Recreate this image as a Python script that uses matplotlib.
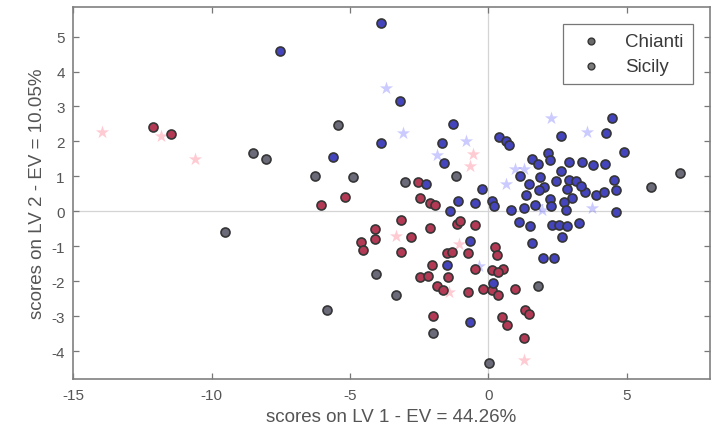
import matplotlib
matplotlib.use("Agg")
import matplotlib.pyplot as plt

plt.rcParams['font.family'] = ['Liberation Sans', 'DejaVu Sans']
plt.rcParams['axes.unicode_minus'] = False

# Calibration scores, LV1 / LV2
chianti_x = [-7.54, -3.89, -5.60, -3.20, -3.89, -1.29, -1.66, -1.59, -2.26, -1.09,
             -1.39, -0.48, 0.12, 0.22, -0.22, 0.40, 0.65, 0.75, 2.61, 4.45,
             4.25, 4.90, 4.53, 4.60, 4.60, 4.20, 3.78, 3.38, 2.93, 2.15,
             2.22, 1.58, 1.78, 2.63, 2.90, 3.17, 1.86, 1.45, 1.36, 2.00,
             2.43, 3.50, 3.90, 4.17, 3.02, 2.75, 2.23, 1.69, 1.30, 0.80,
             2.25, 2.80, 1.10, 2.31, 2.55, 2.85, 3.27, 1.52, 2.66, 1.57,
             1.99, 2.36, -0.66, -0.66, 0.18, -1.51, 2.85, 3.33, 1.82, 1.16]
chianti_y = [4.58, 5.38, 1.56, 3.17, 1.95, 2.50, 1.95, 1.39, 0.77, 0.29,
             0.02, 0.24, 0.29, 0.16, 0.63, 2.14, 2.00, 1.89, 2.16, 2.68,
             2.24, 1.69, 0.89, 0.60, -0.03, 1.35, 1.33, 1.42, 1.42, 1.66,
             1.47, 1.49, 1.36, 1.16, 0.89, 0.87, 0.99, 0.77, 0.46, 0.70,
             0.87, 0.56, 0.46, 0.55, 0.38, 0.28, 0.34, 0.19, 0.10, 0.03,
             0.14, 0.05, -0.29, -0.40, -0.38, -0.41, -0.33, -0.43, -0.72, -0.91,
             -1.34, -1.34, -0.86, -3.17, -2.06, -1.54, 0.63, 0.72, 0.60, 1.01]

sicily_x = [-12.13, -11.46, -6.03, -5.18, -2.56, -2.47, -2.11, -1.93, -4.08, -4.08,
            -4.59, -4.53, -3.16, -3.14, -2.78, -2.11, -1.15, -1.02, -0.48, -1.51,
            -1.33, -0.72, 0.24, 0.30, -2.05, -2.47, -2.17, -1.45, -0.48, 0.12,
            0.54, 0.36, -1.87, -1.63, -0.72, -0.18, 0.12, 0.36, 0.97, -1.99,
            1.33, 1.45, 0.48, 0.67, 1.27]
sicily_y = [2.40, 2.21, 0.19, 0.41, 0.84, 0.39, 0.24, 0.19, -0.51, -0.80,
            -0.89, -1.10, -0.26, -1.15, -0.72, -0.48, -0.35, -0.28, -0.38, -1.20,
            -1.15, -1.20, -1.01, -1.25, -1.54, -1.87, -1.85, -1.87, -1.66, -1.68,
            -1.66, -1.73, -2.14, -2.24, -2.31, -2.21, -2.26, -2.40, -2.21, -2.98,
            -2.83, -2.93, -3.03, -3.26, -3.62]

# Samples with intermediate class score
mixed_x = [-8.50, -8.02, -6.27, -9.50, -5.84, -5.42, 6.91, 5.86, -3.00, -1.18,
           0.04, -3.32, -4.05, -1.99, 1.81, -4.88]
mixed_y = [1.68, 1.51, 1.01, -0.60, -2.83, 2.47, 1.09, 0.69, 0.84, 1.01,
           -4.34, -2.38, -1.80, -3.49, -2.14, 0.98]

# Validation scores
val_chianti_x = [-3.70, -3.10, -0.82, -1.86, 2.26, 3.57, 1.27, 1.76, 0.97, 0.62, 3.76, -0.35, 1.95]
val_chianti_y = [3.53, 2.25, 2.02, 1.60, 2.68, 2.27, 1.20, 0.14, 1.20, 0.77, 0.10, -1.56, 0.05]
val_sicily_x = [-13.96, -11.83, -10.58, -0.55, -0.65, -3.35, -1.05, 1.27, -1.44]
val_sicily_y = [2.26, 2.16, 1.51, 1.63, 1.30, -0.71, -0.93, -4.26, -2.31]

x_ticks = [-15, -10, -5, 0, 5]
y_ticks = [-4, -3, -2, -1, 0, 1, 2, 3, 4, 5]

fig = plt.figure(figsize=(7.17, 4.35), dpi=100)
ax = fig.add_axes([0.102, 0.126, 0.888, 0.856])

ax.axhline(0, color='#d4d4d4', lw=0.9, zorder=0)
ax.axvline(0, color='#d4d4d4', lw=0.9, zorder=0)

ax.scatter(val_chianti_x, val_chianti_y, marker='*', s=100, color='#6a6aff',
           alpha=0.35, linewidths=0, zorder=1)
ax.scatter(val_sicily_x, val_sicily_y, marker='*', s=100, color='#ff6a80',
           alpha=0.35, linewidths=0, zorder=1)

edge = '#353535'
ax.scatter(mixed_x, mixed_y, s=42, facecolor='#6a6a78', edgecolor=edge,
           linewidths=1.2, zorder=2)
ax.scatter(sicily_x, sicily_y, s=42, facecolor='#b33a55', edgecolor=edge,
           linewidths=1.2, zorder=2)
ax.scatter(chianti_x, chianti_y, s=42, facecolor='#4444bc', edgecolor=edge,
           linewidths=1.2, zorder=3)

# legend entries
h1 = ax.scatter([], [], s=24, facecolor='#6a6a6a', edgecolor=edge, linewidths=1.0)
h2 = ax.scatter([], [], s=24, facecolor='#7a7a7a', edgecolor=edge, linewidths=1.0)
leg = ax.legend([h1, h2], ['Chianti', 'Sicily'], loc='upper right',
                fontsize=13.5, frameon=True, fancybox=False, edgecolor='#555555',
                borderaxespad=0.9, handletextpad=0.8, labelspacing=0.4,
                borderpad=0.5, handlelength=2.0)
leg.get_frame().set_linewidth(0.9)
for t in leg.get_texts():
    t.set_color('#3a3a3a')

ax.set_xlim(-15, 8)
ax.set_ylim(-4.8, 5.85)
ax.set_xticks(x_ticks)
ax.set_yticks(y_ticks)
ax.tick_params(direction='in', top=True, right=True, length=4, width=0.9,
               colors='#777777', labelsize=11, labelcolor='#555555', pad=6)
for s in ax.spines.values():
    s.set_color('#808080')
    s.set_linewidth(1.2)

ax.set_xlabel('scores on LV 1 - EV = 44.26%', fontsize=13.5, color='#555555', labelpad=5)
ax.set_ylabel('scores on LV 2 - EV = 10.05%', fontsize=13.5, color='#555555', labelpad=4)

fig.savefig('out.png', dpi=100)
